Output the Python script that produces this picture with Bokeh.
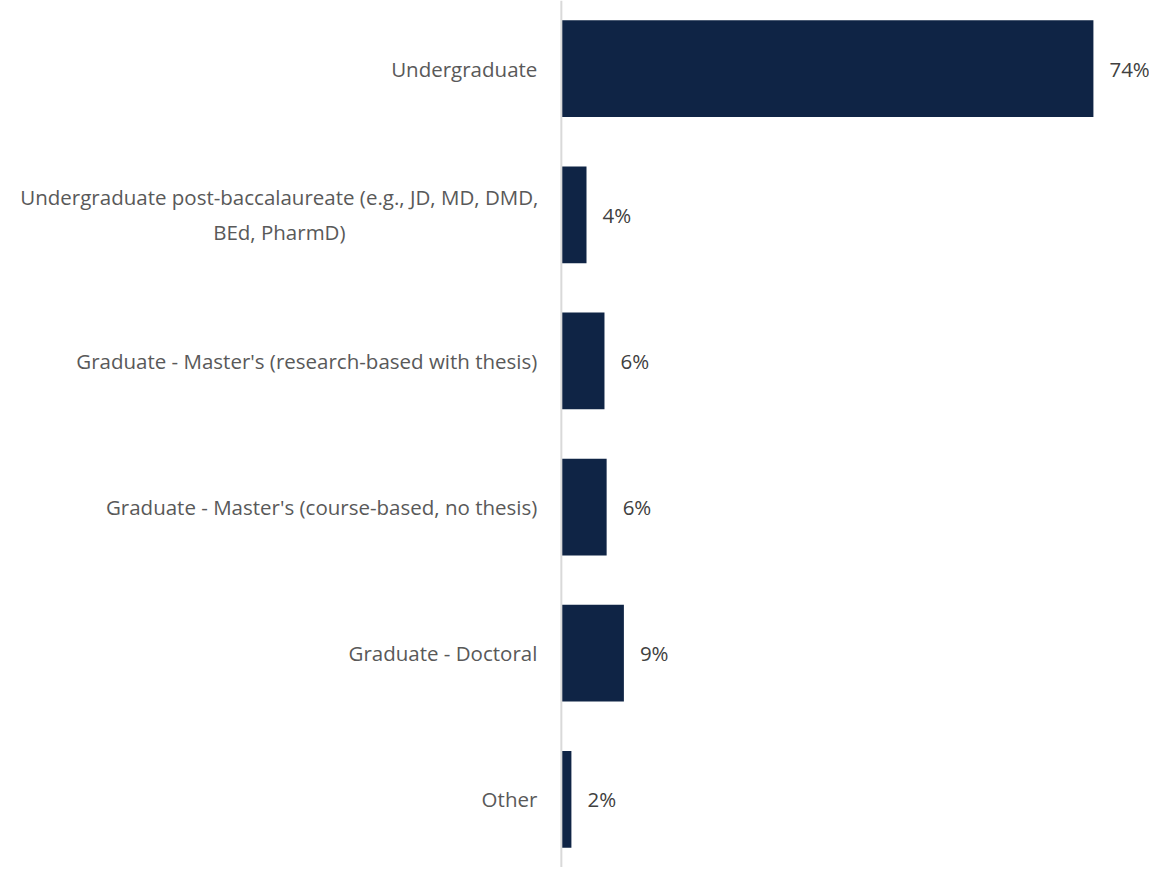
from bokeh.plotting import figure
from bokeh.models import Range1d, FactorRange, Span, ColumnDataSource
from bokeh.core.properties import value
from bokeh.embed import file_html
from bokeh.resources import INLINE

categories = [
    "Undergraduate",
    "Undergraduate post-baccalaureate (e.g., JD, MD, DMD,\nBEd, PharmD)",
    "Graduate - Master's (research-based with thesis)",
    "Graduate - Master's (course-based, no thesis)",
    "Graduate - Doctoral",
    "Other",
]
values = [74.0, 3.5, 6.0, 6.3, 8.7, 1.4]
value_labels = ["74%", "4%", "6%", "6%", "9%", "2%"]

FONT = "Open Sans"
FS = "20.5px"

src = ColumnDataSource(dict(cat=categories, val=values, lab=value_labels,
                            zero=[0] * len(categories)))

single = [c for c in categories if "\n" not in c]
multi = [c for c in categories if "\n" in c]
src1 = ColumnDataSource(dict(cat=single, zero=[0] * len(single)))
src2 = ColumnDataSource(dict(cat=multi, zero=[0] * len(multi)))

p = figure(width=1149, height=867, output_backend="svg", toolbar_location=None,
           x_range=Range1d(-78.0, 81.8),
           y_range=FactorRange(factors=list(reversed(categories)), range_padding=-0.011),
           min_border=0, min_border_left=0, min_border_right=0,
           min_border_top=0, min_border_bottom=0)
p.axis.visible = False
p.grid.visible = False
p.outline_line_color = None
p.background_fill_color = "white"
p.border_fill_color = "white"

p.hbar(y="cat", left=0, right="val", height=0.662, source=src,
       fill_color="#0F2445", line_color=None)

p.add_layout(Span(location=0, dimension="height", line_color="#D9D9D9", line_width=2))

p.text(x="val", y="cat", text="lab", source=src, x_offset=16,
       text_align="left", text_baseline="middle",
       text_font=value(FONT), text_font_size=FS, text_color="#404040")

p.text(x="zero", y="cat", text="cat", source=src1, x_offset=-24,
       text_align="right", text_baseline="middle",
       text_font=value(FONT), text_font_size=FS, text_color="#595959")

# two-line label: lines centred under each other, block right edge near the axis
p.text(x="zero", y="cat", text="cat", source=src2, x_offset=-282,
       text_align="center", text_baseline="middle", text_line_height=1.25,
       text_font=value(FONT), text_font_size=FS, text_color="#595959")

open("out.html", "w").write(file_html(p, INLINE))
